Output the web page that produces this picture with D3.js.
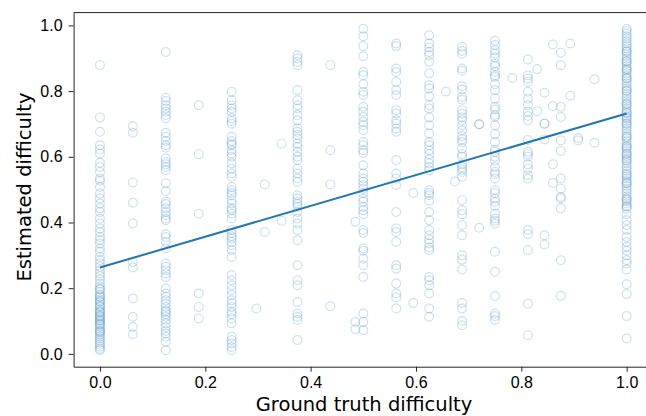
<!DOCTYPE html>
<html>
<head>
<meta charset="utf-8">
<script src="https://cdnjs.cloudflare.com/ajax/libs/d3/7.8.5/d3.min.js"></script>
<style>
  body { margin: 0; background: #fff; }
  svg { display: block; font-family: "DejaVu Sans", sans-serif; }
  .axis path, .axis line { stroke: #262626; stroke-width: 1; }
  .axis text { fill: #000; font-size: 16px; }
</style>
</head>
<body>
<script>
var w = 646,
    h = 416;

// ground truth values that have a column of estimates
var gtColumns = [0, 0.0625, 0.125, 0.1875, 0.25, 0.375, 0.4375, 0.5, 0.5625, 0.625, 0.6875, 0.75, 0.8125, 0.875, 1.0];

// estimated difficulty per column (same order as gtColumns)
var est0 = [0.879, 0.720, 0.676, 0.635, 0.622, 0.610, 0.582, 0.569, 0.554, 0.534, 0.527, 0.508, 0.488, 0.473,
    0.458, 0.443, 0.432, 0.412, 0.397, 0.382, 0.371, 0.356, 0.346, 0.336, 0.321, 0.311, 0.295, 0.285, 0.275,
    0.265, 0.255, 0.245, 0.236, 0.226, 0.214, 0.205, 0.198, 0.196, 0.188, 0.180, 0.175, 0.172, 0.165, 0.160,
    0.158, 0.150, 0.145, 0.143, 0.136, 0.130, 0.128, 0.124, 0.118, 0.115, 0.112, 0.106, 0.102, 0.100, 0.094,
    0.090, 0.088, 0.082, 0.076, 0.070, 0.068, 0.064, 0.058, 0.052, 0.046, 0.040, 0.034, 0.028, 0.022, 0.016, 0.011];
var est0625 = [0.693, 0.673, 0.522, 0.460, 0.397, 0.280, 0.263, 0.169, 0.113, 0.082, 0.060];
var est125 = [0.919, 0.780, 0.770, 0.757, 0.747, 0.737, 0.727, 0.717, 0.673, 0.661, 0.648, 0.635, 0.628, 0.595,
    0.584, 0.577, 0.569, 0.559, 0.519, 0.496, 0.463, 0.456, 0.443, 0.432, 0.422, 0.412, 0.407, 0.364, 0.356,
    0.341, 0.321, 0.275, 0.265, 0.255, 0.245, 0.234, 0.199, 0.184, 0.174, 0.163, 0.153, 0.143, 0.133, 0.128,
    0.121, 0.113, 0.103, 0.093, 0.082, 0.070, 0.062, 0.052, 0.037, 0.011];
var est1875 = [0.757, 0.608, 0.427, 0.184, 0.143, 0.108];
var est25 = [0.798, 0.772, 0.757, 0.747, 0.737, 0.717, 0.709, 0.701, 0.661, 0.648, 0.640, 0.635, 0.620, 0.610,
    0.600, 0.580, 0.564, 0.549, 0.539, 0.508, 0.498, 0.490, 0.483, 0.468, 0.458, 0.443, 0.437, 0.427, 0.412,
    0.377, 0.368, 0.358, 0.351, 0.341, 0.331, 0.316, 0.295, 0.240, 0.224, 0.209, 0.194, 0.179, 0.163, 0.153,
    0.143, 0.128, 0.121, 0.108, 0.093, 0.052, 0.042, 0.032, 0.021, 0.011];
var est375 = [0.909, 0.899, 0.889, 0.879, 0.803, 0.772, 0.757, 0.747, 0.727, 0.711, 0.686, 0.676, 0.666, 0.656,
    0.640, 0.630, 0.615, 0.600, 0.590, 0.564, 0.549, 0.534, 0.524, 0.483, 0.473, 0.463, 0.456, 0.447, 0.432,
    0.412, 0.397, 0.377, 0.346, 0.270, 0.224, 0.209, 0.158, 0.123, 0.113, 0.103, 0.042];
var est4375 = [0.879, 0.620, 0.516, 0.145];
var est5 = [0.990, 0.967, 0.937, 0.906, 0.858, 0.848, 0.821, 0.798, 0.788, 0.752, 0.737, 0.721, 0.706, 0.696,
    0.681, 0.645, 0.635, 0.620, 0.612, 0.574, 0.549, 0.534, 0.524, 0.514, 0.503, 0.490, 0.473, 0.463, 0.447,
    0.437, 0.425, 0.377, 0.368, 0.321, 0.314, 0.290, 0.270, 0.234, 0.123, 0.097, 0.072];
var est5625 = [0.945, 0.937, 0.869, 0.858, 0.828, 0.803, 0.788, 0.742, 0.732, 0.711, 0.701, 0.686, 0.676, 0.590,
    0.549, 0.534, 0.514, 0.432, 0.382, 0.371, 0.341, 0.270, 0.260, 0.214, 0.184, 0.172, 0.138];
var est625 = [0.970, 0.945, 0.933, 0.919, 0.909, 0.889, 0.854, 0.818, 0.808, 0.784, 0.757, 0.747, 0.720, 0.696,
    0.671, 0.645, 0.635, 0.620, 0.608, 0.592, 0.580, 0.569, 0.559, 0.498, 0.490, 0.483, 0.466, 0.432, 0.407,
    0.377, 0.361, 0.348, 0.336, 0.324, 0.316, 0.234, 0.224, 0.209, 0.184, 0.138, 0.113];
var est6875 = [0.935, 0.922, 0.914, 0.869, 0.862, 0.815, 0.805, 0.782, 0.774, 0.742, 0.732, 0.720, 0.711, 0.696,
    0.681, 0.663, 0.653, 0.645, 0.625, 0.608, 0.600, 0.577, 0.569, 0.561, 0.554, 0.539, 0.468, 0.437, 0.425,
    0.392, 0.361, 0.300, 0.287, 0.257, 0.155, 0.138, 0.100, 0.087];
var est75 = [0.953, 0.940, 0.924, 0.914, 0.902, 0.884, 0.876, 0.858, 0.848, 0.843, 0.821, 0.803, 0.777, 0.752,
    0.744, 0.727, 0.721, 0.696, 0.669, 0.645, 0.622, 0.615, 0.600, 0.588, 0.569, 0.554, 0.547, 0.534, 0.498,
    0.490, 0.473, 0.463, 0.450, 0.427, 0.412, 0.405, 0.397, 0.311, 0.250, 0.176, 0.123, 0.115, 0.103];
var est8125 = [0.896, 0.848, 0.838, 0.828, 0.798, 0.777, 0.757, 0.737, 0.724, 0.711, 0.651, 0.615, 0.608, 0.600,
    0.577, 0.564, 0.544, 0.534, 0.377, 0.364, 0.316, 0.153, 0.057];
var est875 = [0.917, 0.879, 0.752, 0.721, 0.650, 0.618, 0.534, 0.503, 0.478, 0.473, 0.443, 0.285, 0.177];
var est1 = [0.990, 0.983, 0.975, 0.967, 0.960, 0.952, 0.945, 0.937, 0.930, 0.922, 0.920, 0.914, 0.906, 0.899,
    0.892, 0.890, 0.884, 0.876, 0.869, 0.866, 0.862, 0.854, 0.846, 0.840, 0.838, 0.831, 0.823, 0.815, 0.808,
    0.802, 0.800, 0.792, 0.784, 0.777, 0.770, 0.762, 0.760, 0.754, 0.747, 0.740, 0.735, 0.732, 0.724, 0.720,
    0.716, 0.709, 0.702, 0.700, 0.694, 0.686, 0.679, 0.671, 0.663, 0.660, 0.656, 0.648, 0.640, 0.633, 0.630,
    0.625, 0.618, 0.610, 0.608, 0.602, 0.595, 0.590, 0.587, 0.580, 0.572, 0.564, 0.557, 0.549, 0.545, 0.541,
    0.534, 0.526, 0.520, 0.519, 0.511, 0.503, 0.496, 0.488, 0.480, 0.473, 0.470, 0.465, 0.458, 0.450, 0.448,
    0.442, 0.425, 0.407, 0.392, 0.377, 0.356, 0.341, 0.326, 0.314, 0.300, 0.285, 0.275, 0.257, 0.212, 0.182,
    0.115, 0.047];

var estimates = [est0, est0625, est125, est1875, est25, est375, est4375, est5, est5625, est625,
    est6875, est75, est8125, est875, est1];

// scattered points that sit off the main columns
var looseX = [0.297, 0.313, 0.313, 0.345, 0.345, 0.485, 0.485, 0.485, 0.595, 0.595, 0.657, 0.674,
    0.720, 0.720, 0.720, 0.783, 0.830, 0.830, 0.844, 0.844, 0.844, 0.844, 0.844, 0.844,
    0.860, 0.860, 0.860, 0.860, 0.893, 0.893, 0.908, 0.908, 0.939, 0.939];
var looseY = [0.138, 0.516, 0.371, 0.640, 0.405, 0.402, 0.097, 0.075, 0.490, 0.155, 0.799, 0.525,
    0.699, 0.384, 0.699, 0.840, 0.867, 0.739, 0.795, 0.701, 0.653, 0.361, 0.333, 0.701,
    0.942, 0.754, 0.577, 0.520, 0.945, 0.786, 0.657, 0.650, 0.836, 0.643];

// least squares fit line end points
var fitX = [0, 1];
var fitY = [0.263, 0.732];

var xTicks = [0, 0.2, 0.4, 0.6, 0.8, 1.0];
var yTicks = [0, 0.2, 0.4, 0.6, 0.8, 1.0];

var points = [];
gtColumns.forEach(function(g, i) {
    estimates[i].forEach(function(e) { points.push({ gt: g, est: e }); });
});
looseX.forEach(function(g, i) { points.push({ gt: g, est: looseY[i] }); });

var x = d3.scaleLinear()
    .domain([-0.05, 1.05])
    .range([73.6, 653]);

var y = d3.scaleLinear()
    .domain([-0.039, 1.039])
    .range([366.7, 12.6]);

var svg = d3.select("body").append("svg")
    .attr("width", w)
    .attr("height", h);

svg.append("g")
    .attr("class", "pts")
    .selectAll("circle")
    .data(points)
    .enter().append("circle")
    .attr("cx", function(d) { return x(d.gt); })
    .attr("cy", function(d) { return y(d.est); })
    .attr("r", 4.4)
    .attr("fill", "none")
    .attr("stroke", "#1f77b4")
    .attr("stroke-opacity", 0.22)
    .attr("stroke-width", 1.2);

var line = d3.line()
    .x(function(d) { return x(d[0]); })
    .y(function(d) { return y(d[1]); });

svg.append("path")
    .datum(fitX.map(function(v, i) { return [v, fitY[i]]; }))
    .attr("d", line)
    .attr("fill", "none")
    .attr("stroke", "#1f77b4")
    .attr("stroke-width", 2);

// top spine
svg.append("line")
    .attr("x1", x(-0.05)).attr("x2", x(1.05))
    .attr("y1", y(1.039)).attr("y2", y(1.039))
    .attr("stroke", "#262626");

svg.append("g")
    .attr("class", "axis axis--x")
    .attr("transform", "translate(0," + y(-0.039) + ")")
    .call(d3.axisBottom(x)
        .tickValues(xTicks)
        .tickFormat(d3.format(".1f"))
        .tickSize(5)
        .tickSizeOuter(0)
        .tickPadding(5));

svg.append("g")
    .attr("class", "axis axis--y")
    .attr("transform", "translate(" + x(-0.05) + ",0)")
    .call(d3.axisLeft(y)
        .tickValues(yTicks)
        .tickFormat(d3.format(".1f"))
        .tickSize(5)
        .tickSizeOuter(0)
        .tickPadding(6));

svg.selectAll(".axis .domain").attr("stroke", "#262626");

svg.append("text")
    .text("Ground truth difficulty")
    .attr("x", 364)
    .attr("y", 411)
    .attr("text-anchor", "middle")
    .attr("font-size", 19.5)
    .attr("fill", "#000");

svg.append("text")
    .text("Estimated difficulty")
    .attr("transform", "translate(31,187) rotate(-90)")
    .attr("text-anchor", "middle")
    .attr("font-size", 19.5)
    .attr("fill", "#000");
</script>
</body>
</html>
